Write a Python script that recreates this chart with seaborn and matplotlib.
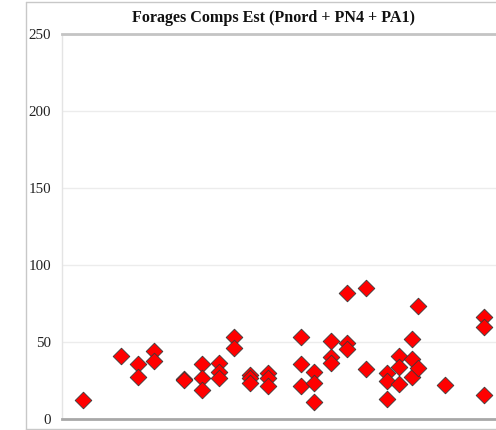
import matplotlib
matplotlib.use("Agg")
import matplotlib.pyplot as plt
import seaborn as sns
import pandas as pd
from matplotlib.lines import Line2D

# Data (x in arbitrary sample-order units)
x_vals = [1.3,
          3.6,
          4.6, 4.6,
          5.6, 5.6,
          7.4, 7.4,
          8.5, 8.5, 8.5,
          9.5, 9.5, 9.5,
          10.4, 10.4,
          11.4, 11.4, 11.4,
          12.5, 12.5, 12.5,
          14.5, 14.5, 14.5,
          15.3, 15.3, 15.3,
          16.3, 16.3, 16.3,
          17.3, 17.3, 17.3,
          18.4, 18.4,
          19.7, 19.7, 19.7,
          20.4, 20.4, 20.4,
          21.2, 21.2, 21.2,
          21.6, 21.6,
          23.2,
          25.6, 25.6, 25.6]
y_vals = [12.3,
          40.9,
          35.7, 27.3,
          44.2, 37.7,
          26.0, 25.3,
          35.7, 26.6, 18.8,
          36.4, 30.5, 26.6,
          53.2, 46.1,
          28.6, 26.6, 23.4,
          29.9, 26.6, 21.4,
          53.2, 35.7, 21.4,
          30.5, 23.4, 11.0,
          50.6, 40.3, 36.4,
          81.8, 49.4, 45.5,
          85.0, 32.5,
          29.9, 24.7, 13.0,
          40.9, 33.8, 22.7,
          51.9, 39.0, 27.3,
          73.4, 33.1,
          22.1,
          66.2, 59.7, 15.6]
y_ticks = [0, 50, 100, 150, 200, 250]
title = "Forages Comps Est (Pnord + PN4 + PA1)"

df = pd.DataFrame({"x": x_vals, "y": y_vals})

sns.set_theme(style="white")
plt.rcParams["font.family"] = ["Liberation Serif", "DejaVu Serif"]

fig = plt.figure(figsize=(4.96, 4.30), dpi=100)
ax = fig.add_axes([0.125, 0.0256, 0.875, 0.8954])

ax.yaxis.grid(True, color="#ececec", linewidth=1.0)
ax.set_axisbelow(True)

sns.scatterplot(data=df, x="x", y="y", ax=ax, marker="D", s=72,
                color="#ff0000", edgecolor="#3a3a3a", linewidth=0.6, legend=False,
                zorder=3, clip_on=False)

ax.set_xlim(0, 26.3)
ax.set_ylim(0, 250)
ax.set_yticks(y_ticks)
ax.set_yticklabels([str(t) for t in y_ticks], fontsize=10.8, color="#222222")
ax.set_xticks([])
ax.set_xlabel("")
ax.set_ylabel("")
ax.tick_params(axis="y", length=0, pad=8)

ax.spines["right"].set_visible(False)
ax.spines["left"].set_color("#e4e4e4")
ax.spines["left"].set_linewidth(1.0)
ax.spines["top"].set_color("#c4c4c4")
ax.spines["top"].set_linewidth(2.0)
ax.spines["bottom"].set_color("#a8a8a8")
ax.spines["bottom"].set_linewidth(2.0)

fig.text(0.552, 0.958, title, ha="center", va="center", fontsize=11.6,
         fontweight="bold", color="#111111")

# outer chart-area border (partially visible)
W, H = 496, 430
fig.add_artist(Line2D([26 / W, 26 / W], [0, 1 - 2 / H], transform=fig.transFigure,
                      color="#c8c8c8", linewidth=1.0))
fig.add_artist(Line2D([26 / W, 1], [1 - 2 / H, 1 - 2 / H], transform=fig.transFigure,
                      color="#c8c8c8", linewidth=1.0))
fig.add_artist(Line2D([26 / W, 1], [1 - 428.5 / H, 1 - 428.5 / H], transform=fig.transFigure,
                      color="#c8c8c8", linewidth=1.0))

fig.savefig("out.png", dpi=100)
